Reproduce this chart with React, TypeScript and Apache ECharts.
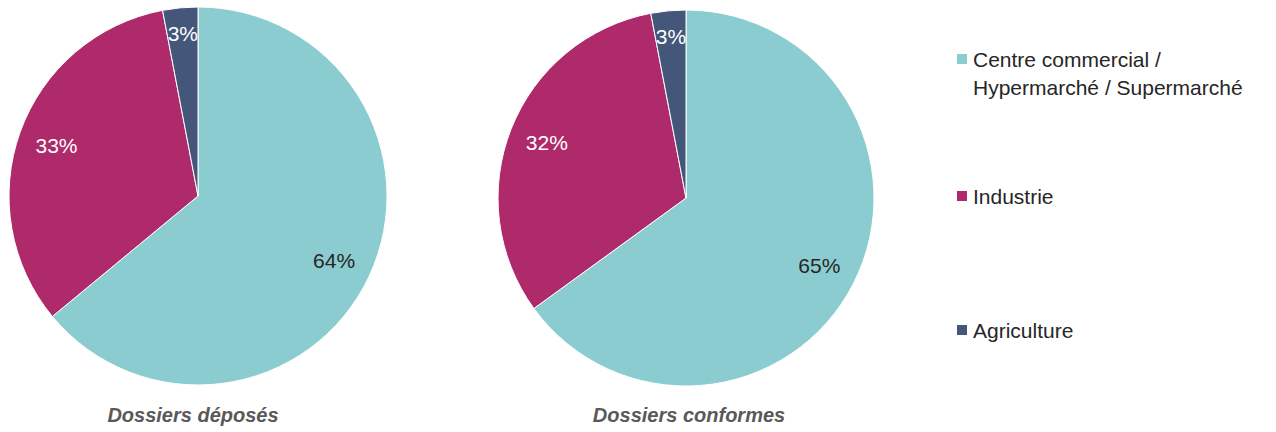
import React, { useEffect, useRef } from "react";
import * as echarts from "echarts";

const categories = [
  "Centre commercial / Hypermarché / Supermarché",
  "Industrie",
  "Agriculture",
];
const legendLabels = [
  "\nCentre commercial /\nHypermarché / Supermarché",
  "Industrie",
  "Agriculture",
];
const deposes = [64, 33, 3];
const conformes = [65, 32, 3];
const chartTitles = ["Dossiers déposés", "Dossiers conformes"];

const colors = ["#8ACCCF", "#AE2A6B", "#44567A"];
const labelColors = ["#262626", "#ffffff", "#ffffff"];
const FONT = "'Liberation Sans', Arial, sans-serif";

export default function App() {
  const ref = useRef<HTMLDivElement>(null);
  useEffect(() => {
    document.body.style.margin = "0";
    const chart = echarts.init(ref.current!, undefined, { renderer: "svg" });
    const pies = [
      { values: deposes, center: [198, 196], r: 189 },
      { values: conformes, center: [686, 198], r: 188 },
    ];
    const series: any[] = [];
    pies.forEach((p, pi) => {
      series.push({
        type: "pie",
        name: chartTitles[pi],
        center: p.center,
        radius: p.r,
        startAngle: 90,
        clockwise: true,
        silent: true,
        label: { show: false },
        labelLine: { show: false },
        itemStyle: { borderColor: "#ffffff", borderWidth: 1 },
        data: p.values.map((v, i) => ({
          value: v,
          name: categories[i],
          itemStyle: { color: colors[i] },
        })),
      });
      series.push({
        type: "pie",
        name: chartTitles[pi] + " labels",
        center: p.center,
        radius: [p.r * 0.56, p.r],
        startAngle: 90,
        clockwise: true,
        silent: true,
        labelLine: { show: false },
        label: {
          show: true,
          position: "inside",
          formatter: "{c}%",
          fontSize: 21,
          fontFamily: FONT,
        },
        labelLayout: (params: any) =>
          params.dataIndex === 2 ? { dy: -13, dx: -1 } : {},
        data: p.values.map((v, i) => ({
          value: v,
          name: categories[i],
          itemStyle: { color: "rgba(0,0,0,0)" },
          label: { color: labelColors[i] },
        })),
      });
    });
    const legendTops = [12, 177, 311];
    chart.setOption({
      animation: false,
      color: colors,
      legend: categories.map((c, i) => ({
        data: [c],
        orient: "vertical",
        left: 950,
        top: legendTops[i],
        itemWidth: 12,
        itemHeight: 12,
        icon: "rect",
        selectedMode: false,
        formatter: () => legendLabels[i],
        textStyle: {
          fontSize: 21,
          fontFamily: FONT,
          color: "#262626",
          lineHeight: 28,
        },
      })),
      graphic: chartTitles.map((t, i) => ({
        type: "text",
        x: i === 0 ? 193 : 689,
        y: 415,
        silent: true,
        style: {
          text: t,
          align: "center",
          verticalAlign: "middle",
          fontSize: 20,
          fontStyle: "italic",
          fontWeight: "bold",
          fontFamily: FONT,
          fill: "#595959",
        },
      })),
      series,
    });
    return () => chart.dispose();
  }, []);
  return <div ref={ref} style={{ width: 1276, height: 432 }} />;
}
